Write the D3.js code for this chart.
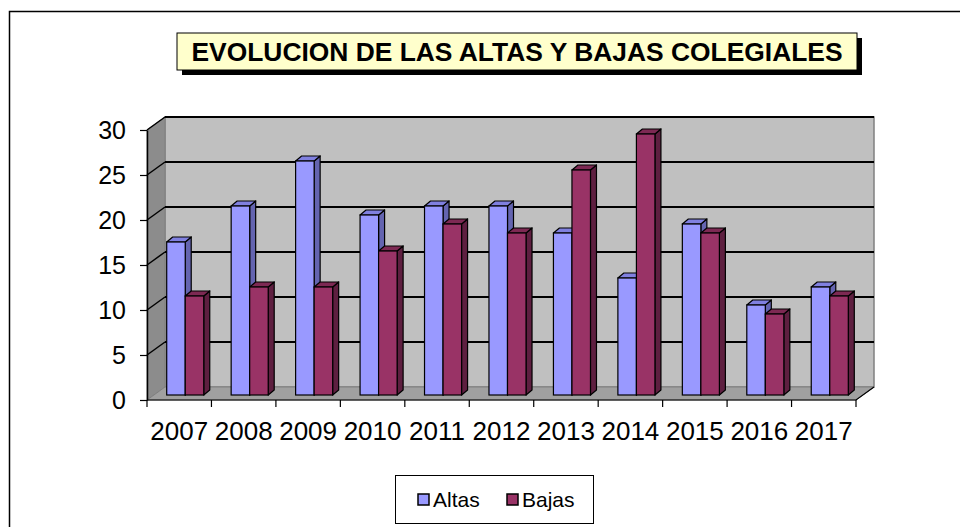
<!DOCTYPE html>
<html>
<head>
<meta charset="utf-8">
<script src="https://cdn.jsdelivr.net/npm/d3@7"></script>
<style>
  html, body { margin: 0; padding: 0; background: #fff; }
  svg { display: block; font-family: "Liberation Sans", Arial, sans-serif; }
</style>
</head>
<body>
<div id="chart"></div>
<script>
// Creating APP object for storing all Methods
APP = {};

/*****
Data
*****/
const years = ["2007", "2008", "2009", "2010", "2011", "2012", "2013", "2014", "2015", "2016", "2017"];
const altas = [17, 21, 26, 20, 21, 21, 18, 13, 19, 10, 12];
const bajas = [11, 12, 12, 16, 19, 18, 25, 29, 18, 9, 11];
const seriesNames = ["Altas", "Bajas"];
const yTicks = [0, 5, 10, 15, 20, 25, 30];
const titleText = "EVOLUCION DE LAS ALTAS Y BAJAS COLEGIALES";

/*****
Declaring global variables
*****/
let width = 960;
let height = 527;

// front face of the plot and 3D depth offsets
let plot = {left: 147, right: 856, bottom: 400, top: 130};
let depth = {dx: 18, dy: 13};      // whole floor depth
let barPos = {dx: 7, dy: 5};       // where the bars stand in the depth
let barThick = {dx: 6, dy: 5};     // thickness of each bar

// colors of each series: front, top, side
let colors = {
  Altas: {front: "#9999ff", top: "#8080e0", side: "#6464b0"},
  Bajas: {front: "#993366", top: "#7d2953", side: "#5e1f40"}
};

let svg, x, xs, y;

/*****
Initializing the whole script of the page
*****/
APP.main = function(){
  svg = d3.select("#chart").append("svg")
    .attr("width", width)
    .attr("height", height);

  x = d3.scaleBand().domain(years).range([plot.left, plot.right]).padding(0);
  xs = d3.scaleBand().domain(seriesNames).range([0, x.bandwidth()])
    .paddingInner(0).paddingOuter(0.74);
  y = d3.scaleLinear().domain([0, 30]).range([plot.bottom, plot.top]);

  APP.drawFrame();
  APP.drawWalls();
  APP.drawBars();
  APP.drawAxes();
  APP.drawTitle();
  APP.drawLegend();
};

/*****
Outer border of the chart area
*****/
APP.drawFrame = function(){
  svg.append("rect")
    .attr("x", 9.5).attr("y", 11.5)
    .attr("width", 980).attr("height", 540)
    .attr("fill", "none")
    .attr("stroke", "#000")
    .attr("stroke-width", 1.5);
};

/*****
Back wall, side wall, floor and gridlines
*****/
APP.drawWalls = function(){
  let L = plot.left, R = plot.right, B = y(0), T = y(30);
  let dx = depth.dx, dy = depth.dy;

  // back wall
  svg.append("rect")
    .attr("x", L + dx).attr("y", T - dy)
    .attr("width", R - L).attr("height", B - T)
    .attr("fill", "#c0c0c0")
    .attr("stroke", "#808080")
    .attr("stroke-width", 1.5);

  // left wall
  svg.append("polygon")
    .attr("points", [[L, B], [L + dx, B - dy], [L + dx, T - dy], [L, T]].join(" "))
    .attr("fill", "#8c8c8c")
    .attr("stroke", "#808080");

  // floor
  svg.append("polygon")
    .attr("points", [[L, B], [R, B], [R + dx, B - dy], [L + dx, B - dy]].join(" "))
    .attr("fill", "#a0a0a0")
    .attr("stroke", "#808080");

  // gridlines on back wall
  svg.append("g").selectAll("line")
    .data(yTicks.filter(d => d > 0))
    .enter().append("line")
    .attr("x1", L + dx).attr("x2", R + dx)
    .attr("y1", d => y(d) - dy).attr("y2", d => y(d) - dy)
    .attr("stroke", "#000")
    .attr("stroke-width", 2);

  // gridlines on left wall
  svg.append("g").selectAll("line")
    .data(yTicks.filter(d => d > 0))
    .enter().append("line")
    .attr("x1", L).attr("x2", L + dx)
    .attr("y1", d => y(d)).attr("y2", d => y(d) - dy)
    .attr("stroke", "#000")
    .attr("stroke-width", 1.5);
};

/*****
3D columns, drawn left to right so the next face hides the previous side
*****/
APP.drawBars = function(){
  let bars = [];
  years.forEach(function(yr, i){
    bars.push({year: yr, series: "Altas", value: altas[i]});
    bars.push({year: yr, series: "Bajas", value: bajas[i]});
  });

  let w = xs.bandwidth();
  let g = svg.append("g");

  bars.forEach(function(d){
    let x0 = x(d.year) + xs(d.series) + barPos.dx - 1;
    let bottom = y(0) - barPos.dy;
    let top = y(d.value) - barPos.dy;
    let tx = barThick.dx, ty = barThick.dy;
    let c = colors[d.series];

    g.append("polygon")
      .attr("points", [[x0 + w, top], [x0 + w + tx, top - ty], [x0 + w + tx, bottom - ty], [x0 + w, bottom]].join(" "))
      .attr("fill", c.side).attr("stroke", "#000").attr("stroke-width", 1.2)
      .attr("stroke-linejoin", "round");
    g.append("polygon")
      .attr("points", [[x0, top], [x0 + w, top], [x0 + w + tx, top - ty], [x0 + tx, top - ty]].join(" "))
      .attr("fill", c.top).attr("stroke", "#000").attr("stroke-width", 1.2)
      .attr("stroke-linejoin", "round");
    g.append("rect")
      .attr("x", x0).attr("y", top)
      .attr("width", w).attr("height", bottom - top)
      .attr("fill", c.front).attr("stroke", "#000").attr("stroke-width", 1.2);
  });
};

/*****
Axes: y ticks/labels on the front left, category labels below
*****/
APP.drawAxes = function(){
  let L = plot.left, R = plot.right, B = y(0);

  let yAxis = svg.append("g")
    .attr("transform", "translate(" + L + ",0)")
    .call(d3.axisLeft(y).tickValues(yTicks).tickSize(7).tickPadding(14).tickSizeOuter(0));
  yAxis.select(".domain").attr("stroke", "#000").attr("stroke-width", 1.5);
  yAxis.selectAll("line").attr("stroke", "#000").attr("stroke-width", 1.2);
  yAxis.selectAll("text")
    .attr("font-size", 25)
    .attr("font-family", "Liberation Sans, Arial, sans-serif")
    .attr("fill", "#000");

  // front floor edge plus the right diagonal
  svg.append("path")
    .attr("d", "M" + L + "," + B + "H" + R + "L" + (R + depth.dx) + "," + (B - depth.dy))
    .attr("fill", "none")
    .attr("stroke", "#000")
    .attr("stroke-width", 1.2);

  // ticks at band boundaries
  let bounds = years.map(d => x(d)).concat([R]);
  svg.append("g").selectAll("line")
    .data(bounds)
    .enter().append("line")
    .attr("x1", d => d).attr("x2", d => d)
    .attr("y1", B).attr("y2", B + 7)
    .attr("stroke", "#000")
    .attr("stroke-width", 1.2);

  svg.append("g").selectAll("text")
    .data(years)
    .enter().append("text")
    .attr("x", d => x(d) + x.bandwidth() / 2)
    .attr("y", B + 40)
    .attr("text-anchor", "middle")
    .attr("font-size", 26)
    .text(d => d);
};

/*****
Title box with drop shadow
*****/
APP.drawTitle = function(){
  let bx = 177, by = 33, bw = 680, bh = 37;
  svg.append("rect")
    .attr("x", bx + 5).attr("y", by + 5)
    .attr("width", bw).attr("height", bh)
    .attr("fill", "#000");
  svg.append("rect")
    .attr("x", bx).attr("y", by)
    .attr("width", bw).attr("height", bh)
    .attr("fill", "#ffffcc")
    .attr("stroke", "#000")
    .attr("stroke-width", 1);
  svg.append("text")
    .attr("x", bx + bw / 2)
    .attr("y", by + 28)
    .attr("text-anchor", "middle")
    .attr("font-size", 26.4)
    .attr("font-weight", "bold")
    .text(titleText);
};

/*****
Legend
*****/
APP.drawLegend = function(){
  let g = svg.append("g");
  g.append("rect")
    .attr("x", 395.5).attr("y", 475.5)
    .attr("width", 198).attr("height", 48)
    .attr("fill", "#fff")
    .attr("stroke", "#000")
    .attr("stroke-width", 1);

  let offsets = [418, 507];
  let items = g.selectAll("g.item")
    .data(seriesNames)
    .enter().append("g")
    .attr("class", "item")
    .attr("transform", (d, i) => "translate(" + offsets[i] + ",494)");
  items.append("rect")
    .attr("width", 11).attr("height", 11)
    .attr("fill", d => colors[d].front)
    .attr("stroke", "#000")
    .attr("stroke-width", 1.5);
  items.append("text")
    .attr("x", 15).attr("y", 13)
    .attr("font-size", 21)
    .text(d => d);
};

APP.main();
</script>
</body>
</html>
